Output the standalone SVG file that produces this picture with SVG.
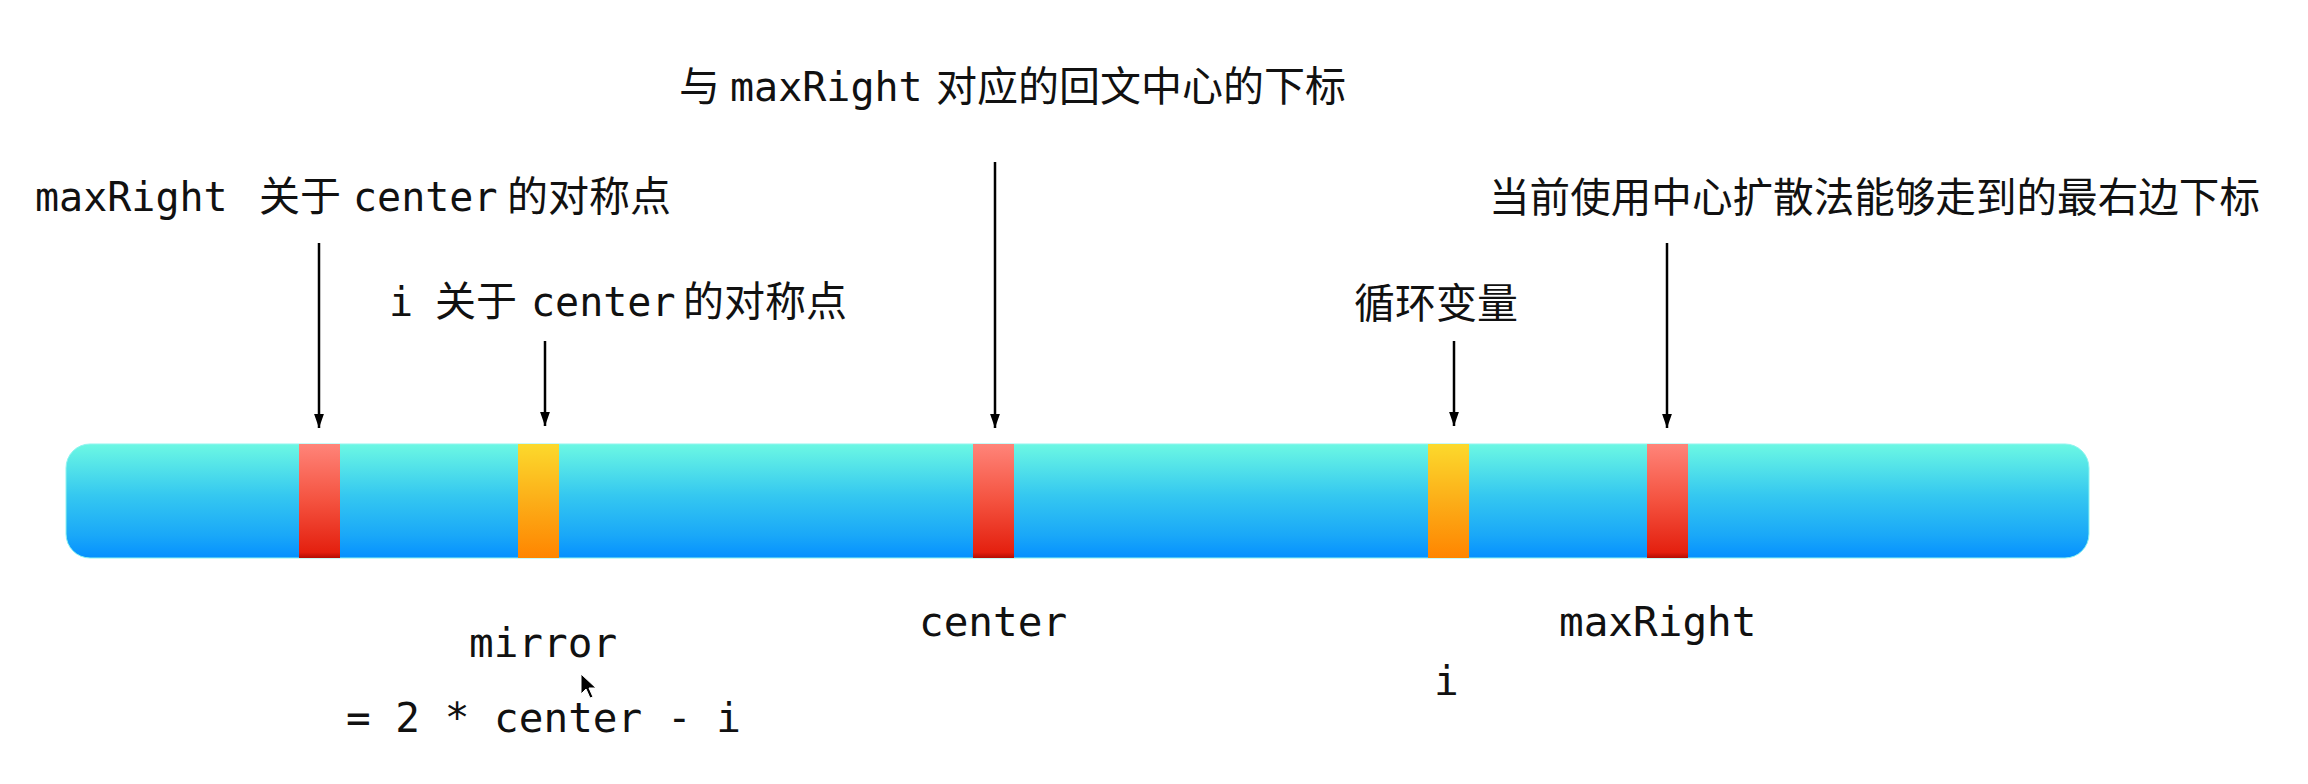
<svg xmlns="http://www.w3.org/2000/svg" width="2308" height="784" viewBox="0 0 2308 784">
  <defs>
    <linearGradient id="gBar" x1="0" y1="0" x2="0" y2="1">
      <stop offset="0" stop-color="#6cf8e3"/>
      <stop offset="0.45" stop-color="#35c8f0"/>
      <stop offset="0.8" stop-color="#1aa8f8"/>
      <stop offset="1" stop-color="#0590ff"/>
    </linearGradient>
    <linearGradient id="gRed" x1="0" y1="0" x2="0" y2="1">
      <stop offset="0" stop-color="#ff8479"/>
      <stop offset="0.5" stop-color="#f4523f"/>
      <stop offset="0.95" stop-color="#e4200f"/>
      <stop offset="1" stop-color="#b50e05"/>
    </linearGradient>
    <linearGradient id="gOrange" x1="0" y1="0" x2="0" y2="1">
      <stop offset="0" stop-color="#fcd92c"/>
      <stop offset="0.5" stop-color="#fcae18"/>
      <stop offset="1" stop-color="#ff8500"/>
    </linearGradient>
    <marker id="tip" markerWidth="14" markerHeight="20" refX="20" refY="7" orient="auto" markerUnits="userSpaceOnUse" viewBox="0 0 20 14">
      <path d="M0,0 L20,7 L0,14 Z" fill="#000"/>
    </marker>
  </defs>
  <style>
    .t { font-family: "DejaVu Sans Mono", "Noto Sans CJK SC", monospace; font-size: 40px; fill: #111; }
    .b { font-size: 41px; }
    .c { font-family: "Noto Sans CJK SC", sans-serif; font-size: 41px; fill: #111; }
    .conn { stroke: #000; stroke-width: 2.5; fill: none; marker-end: url(#tip); }
  </style>
  <rect width="2308" height="784" fill="#ffffff"/>

  <g id="bar">
    <rect x="66" y="444" width="2023" height="114" rx="24" ry="24" fill="url(#gBar)" stroke="#8ff5f0" stroke-width="1"/>
  </g>
  <g id="mark-mirror-maxright">
    <rect x="299" y="444" width="41" height="114" fill="url(#gRed)"/>
  </g>
  <g id="mark-mirror">
    <rect x="518" y="444" width="41" height="114" fill="url(#gOrange)"/>
  </g>
  <g id="mark-center">
    <rect x="973" y="444" width="41" height="114" fill="url(#gRed)"/>
  </g>
  <g id="mark-i">
    <rect x="1428" y="444" width="41" height="114" fill="url(#gOrange)"/>
  </g>
  <g id="mark-maxright">
    <rect x="1647" y="444" width="41" height="114" fill="url(#gRed)"/>
  </g>

  <g id="connectors">
    <line class="conn" x1="319" y1="243" x2="319" y2="428"/>
    <line class="conn" x1="545" y1="341" x2="545" y2="426"/>
    <line class="conn" x1="995" y1="162" x2="995" y2="428"/>
    <line class="conn" x1="1454" y1="341" x2="1454" y2="426"/>
    <line class="conn" x1="1667" y1="243" x2="1667" y2="428"/>
  </g>

  <g id="label-mirror-maxright">
    <text class="t" y="211"><tspan x="35">maxRight</tspan><tspan class="c" x="259">关于</tspan><tspan x="353">center</tspan><tspan class="c" x="507">的对称点</tspan></text>
  </g>
  <g id="label-mirror-i">
    <text class="t" y="316"><tspan x="389">i</tspan><tspan class="c" x="435">关于</tspan><tspan x="531">center</tspan><tspan class="c" x="683">的对称点</tspan></text>
  </g>
  <g id="label-center-top">
    <text class="t" y="101"><tspan class="c" x="679">与</tspan><tspan x="730">maxRight</tspan><tspan class="c" x="936">对应的回文中心的下标</tspan></text>
  </g>
  <g id="label-loop">
    <text class="c" x="1354" y="318">循环变量</text>
  </g>
  <g id="label-maxright-top">
    <text class="c" x="1489" y="212" textLength="771" lengthAdjust="spacingAndGlyphs">当前使用中心扩散法能够走到的最右边下标</text>
  </g>

  <g id="label-center">
    <text class="t b" x="919" y="636">center</text>
  </g>
  <g id="label-maxright">
    <text class="t b" x="1559" y="636">maxRight</text>
  </g>
  <g id="label-mirror">
    <text class="t b" x="469" y="657">mirror</text>
    <text class="t b" x="346" y="732">= 2 * center - i</text>
  </g>
  <g id="label-i">
    <text class="t b" x="1434" y="695">i</text>
  </g>

  <g id="cursor">
    <path d="M581,674 L581,694 L586,689 L590,698 L593,697 L589,688 L596,688 Z" fill="#000" stroke="#fff" stroke-width="1"/>
  </g>
</svg>
